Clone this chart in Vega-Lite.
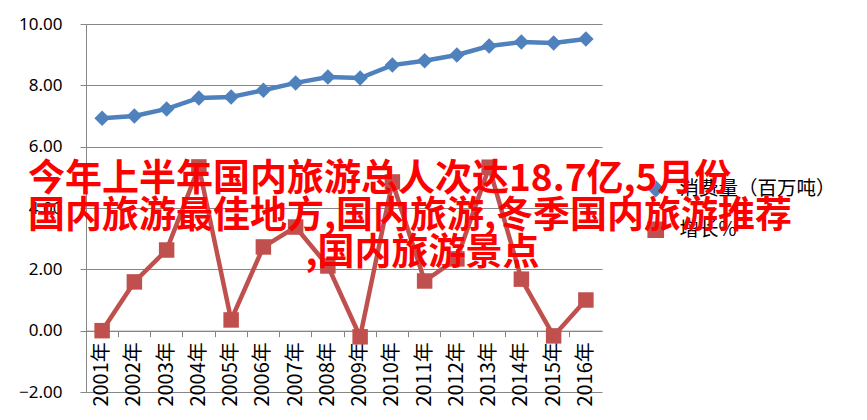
{
  "$schema": "https://vega.github.io/schema/vega-lite/v6.json",
  "width": 516,
  "height": 368,
  "autosize": {"type": "none"},
  "padding": {"left": 86, "top": 24, "right": 265, "bottom": 28},
  "background": "white",
  "title": {
    "text": ["今年上半年国内旅游总人次达18.7亿,5月份", "国内旅游最佳地方,国内旅游,冬季国内旅游推荐", "\u200b　　　　　　　\u2002,国内旅游景点"],
    "anchor": "start",
    "frame": "group",
    "font": "Noto Sans CJK SC",
    "fontSize": 37,
    "fontWeight": "bold",
    "color": "#FF0000",
    "lineHeight": 37,
    "baseline": "top",
    "dx": -58,
    "dy": 262,
    "zindex": 1
  },
  "data": {
    "values": [
      {"year": "2001年", "series": "消费量（百万吨）", "value": 6.93},
      {"year": "2002年", "series": "消费量（百万吨）", "value": 7.0},
      {"year": "2003年", "series": "消费量（百万吨）", "value": 7.23},
      {"year": "2004年", "series": "消费量（百万吨）", "value": 7.59},
      {"year": "2005年", "series": "消费量（百万吨）", "value": 7.62},
      {"year": "2006年", "series": "消费量（百万吨）", "value": 7.84},
      {"year": "2007年", "series": "消费量（百万吨）", "value": 8.08},
      {"year": "2008年", "series": "消费量（百万吨）", "value": 8.27},
      {"year": "2009年", "series": "消费量（百万吨）", "value": 8.24},
      {"year": "2010年", "series": "消费量（百万吨）", "value": 8.66},
      {"year": "2011年", "series": "消费量（百万吨）", "value": 8.8},
      {"year": "2012年", "series": "消费量（百万吨）", "value": 8.99},
      {"year": "2013年", "series": "消费量（百万吨）", "value": 9.28},
      {"year": "2014年", "series": "消费量（百万吨）", "value": 9.41},
      {"year": "2015年", "series": "消费量（百万吨）", "value": 9.38},
      {"year": "2016年", "series": "消费量（百万吨）", "value": 9.51},
      {"year": "2001年", "series": "增长%", "value": 0.0},
      {"year": "2002年", "series": "增长%", "value": 1.59},
      {"year": "2003年", "series": "增长%", "value": 2.63},
      {"year": "2004年", "series": "增长%", "value": 5.34},
      {"year": "2005年", "series": "增长%", "value": 0.35},
      {"year": "2006年", "series": "增长%", "value": 2.73},
      {"year": "2007年", "series": "增长%", "value": 3.38},
      {"year": "2008年", "series": "增长%", "value": 2.11},
      {"year": "2009年", "series": "增长%", "value": -0.2},
      {"year": "2010年", "series": "增长%", "value": 4.85},
      {"year": "2011年", "series": "增长%", "value": 1.62},
      {"year": "2012年", "series": "增长%", "value": 2.34},
      {"year": "2013年", "series": "增长%", "value": 5.33},
      {"year": "2014年", "series": "增长%", "value": 1.68},
      {"year": "2015年", "series": "增长%", "value": -0.17},
      {"year": "2016年", "series": "增长%", "value": 1.0}
    ]
  },
  "encoding": {
    "x": {
      "field": "year",
      "type": "ordinal",
      "sort": null,
      "scale": {"type": "band", "paddingInner": 0, "paddingOuter": 0},
      "axis": {
        "title": null,
        "labelAngle": 270,
        "labelFont": "Noto Sans CJK SC",
        "labelFontSize": 20,
        "labelColor": "#000000",
        "labelPadding": 5,
        "offset": -61.33,
        "domainColor": "#868686",
        "tickColor": "#868686",
        "tickSize": 6,
        "bandPosition": 0,
        "grid": false
      }
    },
    "y": {
      "field": "value",
      "type": "quantitative",
      "scale": {"domain": [-2, 10], "nice": false, "zero": false},
      "axis": {
        "title": null,
        "values": [-2, 0, 2, 4, 6, 8, 10],
        "format": ".2f",
        "labelFont": "Noto Sans",
        "labelFontSize": 17,
        "labelColor": "#000000",
        "labelPadding": 18,
        "gridColor": "#868686",
        "domainColor": "#868686",
        "tickColor": "#868686",
        "tickSize": 6
      }
    },
    "color": {
      "field": "series",
      "type": "nominal",
      "scale": {"domain": ["消费量（百万吨）", "增长%"], "range": ["#4F81BD", "#C0504D"]},
      "legend": {
        "title": null,
        "orient": "none",
        "legendX": 560,
        "legendY": 155,
        "labelFont": "Noto Sans CJK SC",
        "labelFontSize": 19.5,
        "labelColor": "#000000",
        "labelLimit": 300,
        "labelOffset": 14,
        "rowPadding": 19,
        "symbolSize": 230
      }
    }
  },
  "layer": [
    {"mark": {"type": "line", "strokeWidth": 4.5}},
    {
      "mark": {"type": "point", "filled": true, "opacity": 1},
      "encoding": {
        "shape": {
          "field": "series",
          "type": "nominal",
          "scale": {"domain": ["消费量（百万吨）", "增长%"], "range": ["diamond", "square"]},
          "legend": null
        },
        "size": {"value": 240}
      }
    }
  ],
  "config": {"view": {"stroke": null}}
}
